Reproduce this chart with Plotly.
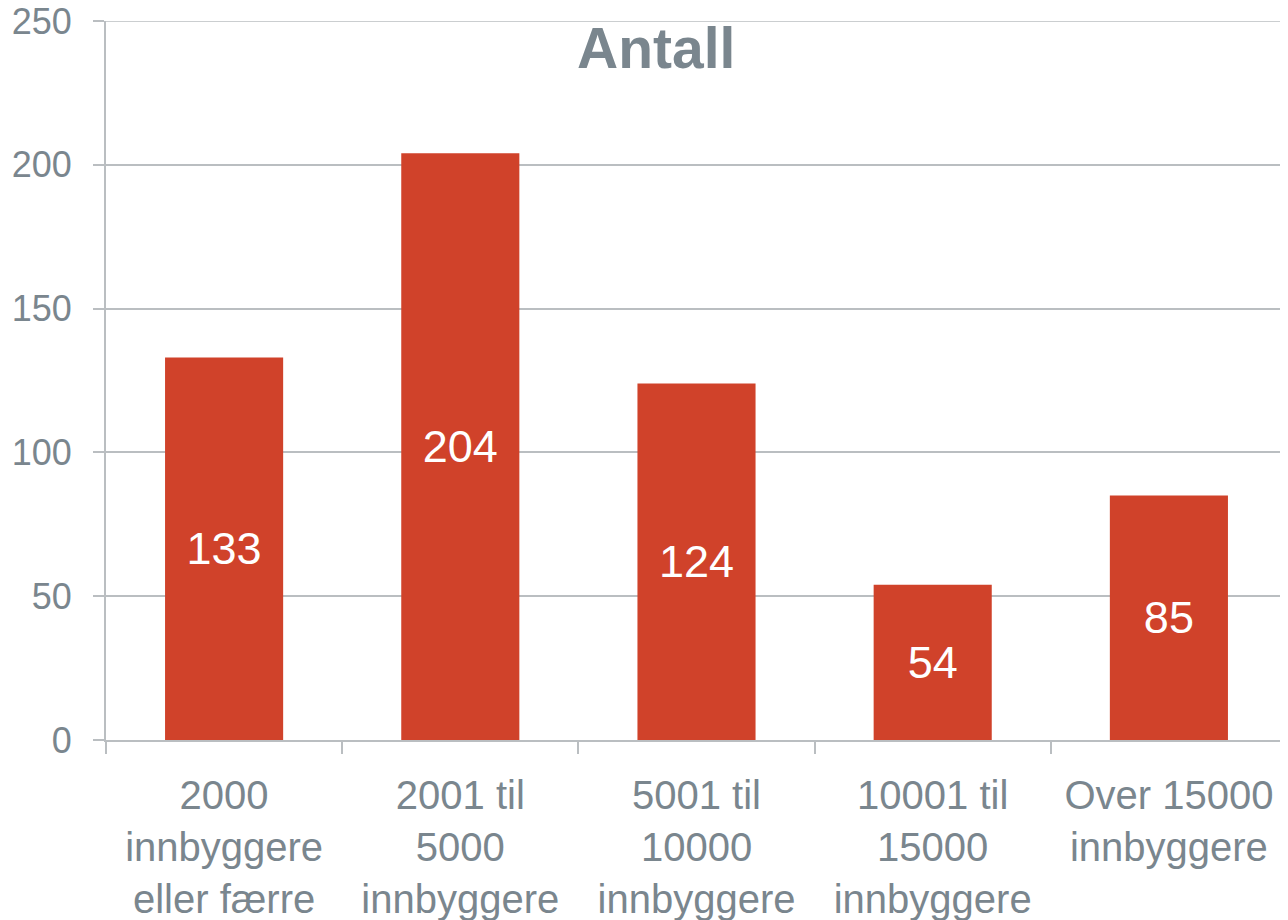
import plotly.graph_objects as go

categories = [
    "2000<br>innbyggere<br>eller færre",
    "2001 til<br>5000<br>innbyggere",
    "5001 til<br>10000<br>innbyggere",
    "10001 til<br>15000<br>innbyggere",
    "Over 15000<br>innbyggere",
]
values = [133, 204, 124, 54, 85]
y_ticks = [0, 50, 100, 150, 200, 250]
title_text = "Antall"

GRAY_TEXT = "#7A868E"
GRID = "#BABEC1"
BAR = "#D0422A"
FONT = "Liberation Sans, Arial, sans-serif"

fig = go.Figure(
    go.Bar(
        x=categories,
        y=values,
        text=[str(v) for v in values],
        textposition="inside",
        insidetextanchor="middle",
        textangle=0,
        textfont=dict(family=FONT, size=45, color="white"),
        marker=dict(color=BAR, line=dict(width=0)),
        hoverinfo="skip",
    )
)

fig.update_layout(
    width=1280,
    height=912,
    margin=dict(l=98, r=1, t=13, b=180),
    paper_bgcolor="white",
    plot_bgcolor="white",
    bargap=0.5,
    showlegend=False,
    font=dict(family=FONT, color=GRAY_TEXT),
    annotations=[
        dict(
            text="<b>" + title_text + "</b>",
            xref="paper", yref="paper",
            x=0.4657, y=0.963,
            xanchor="center", yanchor="middle",
            showarrow=False,
            font=dict(family=FONT, size=57, color=GRAY_TEXT),
        )
    ],
    shapes=[
        # top gridline at the axis maximum (plotly omits the one at the range edge)
        dict(
            type="line", xref="paper", yref="y",
            x0=0, x1=1, y0=y_ticks[-1], y1=y_ticks[-1],
            line=dict(color=GRID, width=1.5),
            layer="below",
        )
    ],
)

fig.update_xaxes(
    type="category",
    tickson="boundaries",
    ticks="outside",
    ticklen=12,
    tickwidth=1.5,
    tickcolor=GRID,
    showline=True,
    linecolor=GRID,
    linewidth=2,
    showgrid=False,
    automargin=False,
    ticklabeloverflow="allow",
    tickfont=dict(family=FONT, size=40, color=GRAY_TEXT),
    ticklabelstandoff=19,
)

fig.update_yaxes(
    range=[0, 250],
    tickvals=y_ticks,
    ticks="outside",
    ticklen=11,
    tickwidth=1.5,
    tickcolor=GRID,
    showline=True,
    linecolor=GRID,
    linewidth=2,
    showgrid=True,
    gridcolor=GRID,
    gridwidth=1.5,
    zeroline=False,
    automargin=False,
    ticklabeloverflow="allow",
    tickfont=dict(family=FONT, size=36, color=GRAY_TEXT),
    ticklabelstandoff=14,
)

fig.write_html("out.html")
